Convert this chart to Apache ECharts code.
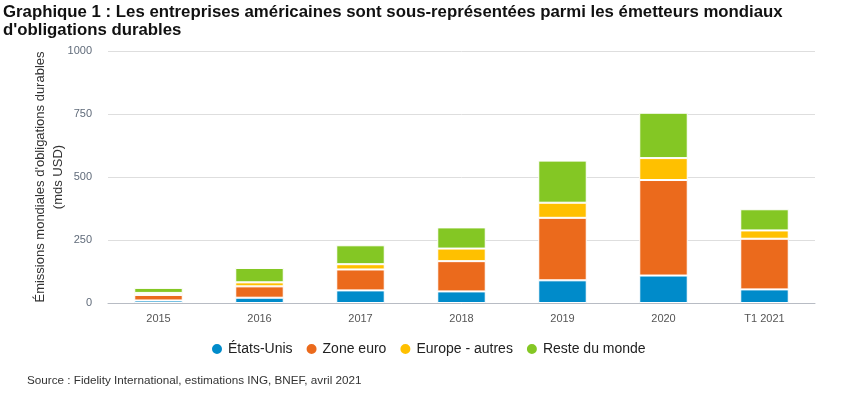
<!DOCTYPE html>
<html>
<head>
<meta charset="utf-8">
<script src="https://cdn.jsdelivr.net/npm/echarts@6/dist/echarts.min.js"></script>
<style>
  html, body { margin: 0; padding: 0; background: #fff; }
  #chart { width: 845px; height: 396px; }
</style>
</head>
<body>
<div id="chart"></div>
<script>
// Categories and series values (mds USD)
const categories = ['2015', '2016', '2017', '2018', '2019', '2020', 'T1 2021'];
const etatsUnis = [10, 21, 50, 46, 90, 109, 54];
const zoneEuro = [22, 45, 83, 120, 248, 379, 201];
const europeAutres = [8, 16, 21, 50, 60, 87, 33];
const resteMonde = [20, 57, 75, 84, 167, 180, 84];
const yTicks = [0, 250, 500, 750, 1000];

const colors = ['#008bca', '#eb6a1c', '#ffc000', '#84c724'];
const font = 'Liberation Sans, Arial, sans-serif';

const chart = echarts.init(document.getElementById('chart'));

function barSeries(name, data) {
    return {
        name: name,
        type: 'bar',
        stack: 'total',
        barWidth: '48%',
        data: data,
        itemStyle: { borderColor: '#fff', borderWidth: 1 }
    };
}

chart.setOption({
    animation: false,
    color: colors,
    title: [{
        text: "Graphique 1 : Les entreprises américaines sont sous-représentées parmi les émetteurs mondiaux\nd'obligations durables",
        left: 3,
        top: 3,
        padding: 0,
        textStyle: { fontFamily: font, fontSize: 16.8, fontWeight: 'bold', color: '#111', lineHeight: 18 }
    }, {
        text: 'Source : Fidelity International, estimations ING, BNEF, avril 2021',
        left: 27,
        top: 375,
        padding: 0,
        textStyle: { fontFamily: font, fontSize: 11.7, fontWeight: 'normal', color: '#333' }
    }],
    legend: {
        left: 205,
        top: 337,
        icon: 'circle',
        itemWidth: 12,
        itemHeight: 12,
        itemGap: 12,
        textStyle: { fontFamily: font, fontSize: 14, color: '#222' }
    },
    grid: { left: 108, right: 30, top: 51, bottom: 93 },
    xAxis: {
        type: 'category',
        data: categories,
        axisTick: { show: false },
        axisLine: { lineStyle: { color: '#b8bcc4' } },
        axisLabel: { fontFamily: font, fontSize: 11, color: '#555', margin: 10 }
    },
    yAxis: {
        type: 'value',
        min: yTicks[0],
        max: yTicks[yTicks.length - 1],
        interval: 250,
        name: "Émissions mondiales d'obligations durables\n(mds USD)",
        nameLocation: 'middle',
        nameGap: 41,
        nameMoveOverlap: false,
        nameTextStyle: { fontFamily: font, fontSize: 13, color: '#333', lineHeight: 18 },
        axisLabel: { fontFamily: font, fontSize: 11, color: '#606b7a', margin: 16, formatter: v => String(v) },
        splitLine: { lineStyle: { color: '#dedede' } }
    },
    series: [
        barSeries('États-Unis', etatsUnis),
        barSeries('Zone euro', zoneEuro),
        barSeries('Europe - autres', europeAutres),
        barSeries('Reste du monde', resteMonde)
    ]
});
</script>
</body>
</html>
